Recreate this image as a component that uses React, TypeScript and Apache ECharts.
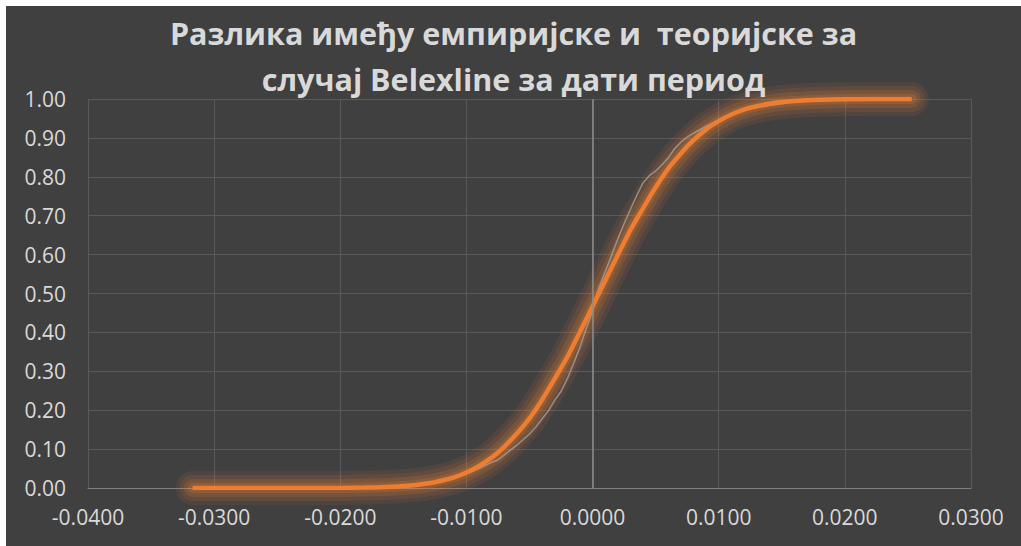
import React, { useEffect, useRef } from "react";
import * as echarts from "echarts";

// Theoretical (normal) distribution function, sampled along the return axis
const theoX = [
  -0.0317, -0.025, -0.02, -0.018, -0.017, -0.016, -0.015, -0.014, -0.013, -0.012,
  -0.011, -0.01, -0.009, -0.008, -0.007, -0.006, -0.005, -0.004, -0.003, -0.002,
  -0.001, 0, 0.001, 0.002, 0.003, 0.004, 0.005, 0.006, 0.007, 0.008,
  0.009, 0.01, 0.011, 0.012, 0.013, 0.014, 0.015, 0.016, 0.018, 0.02, 0.0253,
];
const theoY = [
  0.0, 0.0, 0.0003, 0.001, 0.0018, 0.003, 0.0049, 0.0078, 0.0122, 0.0188,
  0.0274, 0.04, 0.057, 0.078, 0.106, 0.14, 0.179, 0.227, 0.281, 0.337,
  0.401, 0.467, 0.533, 0.599, 0.663, 0.719, 0.773, 0.821, 0.86, 0.894,
  0.922, 0.943, 0.96, 0.9726, 0.9812, 0.9878, 0.9922, 0.9951, 0.9982, 0.9994, 1.0,
];

// Empirical distribution function of the Belexline returns
const empX = [
  -0.0317, -0.025, -0.02, -0.017, -0.015, -0.014, -0.013, -0.012, -0.011, -0.01,
  -0.0095, -0.009, -0.0085, -0.008, -0.0075, -0.007, -0.0065, -0.006, -0.0055, -0.005,
  -0.0045, -0.004, -0.0035, -0.003, -0.0025, -0.002, -0.0015, -0.001, -0.0005, 0,
  0.0004, 0.001, 0.0015, 0.002, 0.0025, 0.003, 0.0035, 0.004, 0.0045, 0.005,
  0.0055, 0.006, 0.0065, 0.007, 0.0075, 0.008, 0.009, 0.01, 0.011, 0.012,
  0.013, 0.014, 0.015, 0.016, 0.017, 0.019, 0.0253,
];
const empY = [
  0.0, 0.001, 0.002, 0.003, 0.005, 0.007, 0.011, 0.016, 0.024, 0.036,
  0.043, 0.05, 0.058, 0.066, 0.072, 0.085, 0.098, 0.11, 0.124, 0.139,
  0.157, 0.178, 0.199, 0.226, 0.248, 0.281, 0.32, 0.362, 0.41, 0.455,
  0.505, 0.556, 0.598, 0.64, 0.68, 0.716, 0.752, 0.785, 0.803, 0.815,
  0.831, 0.848, 0.872, 0.889, 0.902, 0.912, 0.93, 0.947, 0.961, 0.972,
  0.978, 0.983, 0.988, 0.993, 0.996, 0.998, 1.0,
];

const titleLines = [
  "Разлика имеђу емпиријске и  теоријске за",
  "случај Belexline за дати период",
];

const FONT = "'Open Sans', 'Noto Sans', sans-serif";
const ORANGE = "#ed7d31";

// soft glow layers drawn beneath the theoretical curve (width, opacity)
const glowLayers: [number, number][] = [
  [34, 0.08],
  [26, 0.1],
  [18, 0.14],
  [10, 0.2],
];

export default function App() {
  const ref = useRef<HTMLDivElement>(null);

  useEffect(() => {
    if (!ref.current) return;
    const chart = echarts.init(ref.current, undefined, { renderer: "svg" });
    const theo = theoX.map((x, i) => [x, theoY[i]]);
    const emp = empX.map((x, i) => [x, empY[i]]);

    const glowSeries = glowLayers.map(([w, a], i) => ({
      name: "glow" + i,
      type: "line",
      data: theo,
      smooth: 0.3,
      showSymbol: false,
      symbol: "none",
      silent: true,
      lineStyle: {
        color: `rgba(237,125,49,${a})`,
        width: w,
        cap: "round",
        join: "round",
        shadowBlur: 8,
        shadowColor: `rgba(237,125,49,${a})`,
      },
      z: 1,
    }));

    chart.setOption({
      animation: false,
      backgroundColor: "#404040",
      title: {
        text: titleLines.join("\n"),
        left: "center",
        top: 4,
        padding: 0,
        textStyle: {
          color: "#d9d9d9",
          fontFamily: FONT,
          fontWeight: "bold",
          fontSize: 30.5,
          lineHeight: 46,
        },
      },
      grid: { left: 82, right: 50, top: 93, bottom: 58 },
      xAxis: {
        type: "value",
        min: -0.04,
        max: 0.03,
        interval: 0.01,
        axisLine: { show: true, onZero: true, lineStyle: { color: "#7f7f7f", width: 1 } },
        axisTick: { show: false },
        axisLabel: {
          color: "#d9d9d9",
          fontFamily: FONT,
          fontSize: 21,
          margin: 18,
          formatter: (v: number) => v.toFixed(4),
        },
        splitLine: { show: true, lineStyle: { color: "#595959", width: 1 } },
      },
      yAxis: {
        type: "value",
        min: 0,
        max: 1,
        interval: 0.1,
        axisLine: { show: false },
        axisTick: { show: false },
        axisLabel: {
          color: "#d9d9d9",
          fontFamily: FONT,
          fontSize: 21,
          margin: 22,
          formatter: (v: number) => v.toFixed(2),
        },
        splitLine: { show: true, lineStyle: { color: "#595959", width: 1 } },
      },
      series: [
        ...glowSeries,
        {
          name: "Емпиријска",
          type: "line",
          data: emp,
          showSymbol: false,
          symbol: "none",
          lineStyle: { color: "rgba(165,165,165,0.75)", width: 1.5 },
          markLine: {
            silent: true,
            symbol: "none",
            label: { show: false },
            lineStyle: { color: "#8c8c8c", width: 1.5, type: "solid" },
            data: [{ xAxis: 0 }],
          },
          z: 2,
        },
        {
          name: "Теоријска",
          type: "line",
          data: theo,
          smooth: 0.3,
          showSymbol: false,
          symbol: "none",
          lineStyle: { color: ORANGE, width: 4.5 },
          z: 3,
        },
      ],
    });
    return () => chart.dispose();
  }, []);

  return (
    <div
      style={{
        position: "absolute",
        left: 0,
        top: 0,
        width: 1021,
        height: 546,
        background: "#ffffff",
      }}
    >
      <div
        ref={ref}
        style={{ position: "absolute", left: 6, top: 6, width: 1015, height: 540 }}
      />
    </div>
  );
}
